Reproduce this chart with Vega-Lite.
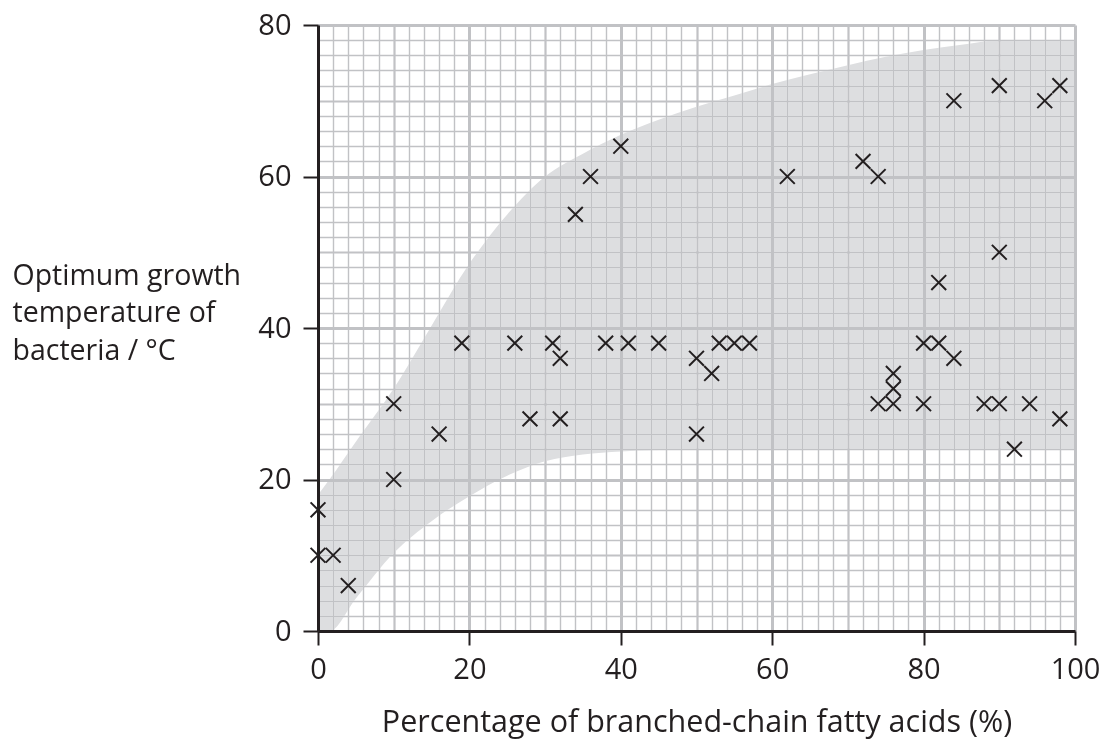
{
  "$schema": "https://vega.github.io/schema/vega-lite/v6.json",
  "autosize": {"type": "none"},
  "width": 757,
  "height": 606,
  "padding": {"left": 318, "top": 25, "right": 26, "bottom": 109},
  "background": "white",
  "config": {"view": {"stroke": null}, "font": "Open Sans"},
  "datasets": {
    "band": [
      {"pct": 0, "temp": 18, "lower": 0},
      {"pct": 1.5, "temp": 20, "lower": 0},
      {"pct": 5, "temp": 25, "lower": 4.3},
      {"pct": 10, "temp": 32, "lower": 10.3},
      {"pct": 15, "temp": 40.3, "lower": 14.5},
      {"pct": 20, "temp": 48.5, "lower": 17.8},
      {"pct": 25, "temp": 55, "lower": 20.5},
      {"pct": 30, "temp": 60, "lower": 22.4},
      {"pct": 35, "temp": 63, "lower": 23.3},
      {"pct": 40, "temp": 65.5, "lower": 23.7},
      {"pct": 45, "temp": 67.5, "lower": 23.9},
      {"pct": 50, "temp": 69.2, "lower": 24},
      {"pct": 55, "temp": 70.7, "lower": 24},
      {"pct": 60, "temp": 72.2, "lower": 24},
      {"pct": 65, "temp": 73.5, "lower": 24},
      {"pct": 70, "temp": 74.7, "lower": 24},
      {"pct": 75, "temp": 75.8, "lower": 24},
      {"pct": 80, "temp": 76.7, "lower": 24},
      {"pct": 85, "temp": 77.4, "lower": 24},
      {"pct": 90, "temp": 78, "lower": 24},
      {"pct": 95, "temp": 78, "lower": 24},
      {"pct": 100, "temp": 78, "lower": 24}
    ],
    "bacteria": [
      {"pct": 0, "temp": 16}, {"pct": 0, "temp": 10}, {"pct": 2, "temp": 10}, {"pct": 4, "temp": 6},
      {"pct": 10, "temp": 30}, {"pct": 10, "temp": 20}, {"pct": 16, "temp": 26}, {"pct": 19, "temp": 38},
      {"pct": 26, "temp": 38}, {"pct": 28, "temp": 28}, {"pct": 31, "temp": 38}, {"pct": 32, "temp": 36},
      {"pct": 32, "temp": 28}, {"pct": 34, "temp": 55}, {"pct": 36, "temp": 60}, {"pct": 38, "temp": 38},
      {"pct": 40, "temp": 64}, {"pct": 41, "temp": 38}, {"pct": 45, "temp": 38}, {"pct": 50, "temp": 36},
      {"pct": 50, "temp": 26}, {"pct": 52, "temp": 34}, {"pct": 53, "temp": 38}, {"pct": 55, "temp": 38},
      {"pct": 57, "temp": 38}, {"pct": 62, "temp": 60}, {"pct": 72, "temp": 62}, {"pct": 74, "temp": 60},
      {"pct": 74, "temp": 30}, {"pct": 76, "temp": 30}, {"pct": 76, "temp": 32}, {"pct": 76, "temp": 34},
      {"pct": 80, "temp": 38}, {"pct": 82, "temp": 38}, {"pct": 82, "temp": 46}, {"pct": 84, "temp": 36},
      {"pct": 84, "temp": 70}, {"pct": 80, "temp": 30}, {"pct": 88, "temp": 30}, {"pct": 90, "temp": 30},
      {"pct": 90, "temp": 72}, {"pct": 90, "temp": 50}, {"pct": 92, "temp": 24}, {"pct": 94, "temp": 30},
      {"pct": 96, "temp": 70}, {"pct": 98, "temp": 72}, {"pct": 98, "temp": 28}
    ]
  },
  "encoding": {
    "x": {
      "field": "pct", "type": "quantitative",
      "scale": {"domain": [0, 100], "nice": false, "zero": false},
      "axis": {
        "values": [0,2,4,6,8,10,12,14,16,18,20,22,24,26,28,30,32,34,36,38,40,42,44,46,48,50,52,54,56,58,60,62,64,66,68,70,72,74,76,78,80,82,84,86,88,90,92,94,96,98,100],
        "grid": true,
        "gridColor": "#c1c2c5",
        "gridWidth": {"expr": "datum.value % 20 === 0 ? 3 : (datum.value % 10 === 0 ? 2.2 : 1.4)"},
        "domainColor": "#231f20",
        "domainWidth": 3,
        "tickColor": "#231f20",
        "tickWidth": 2,
        "tickSize": 14,
        "tickOpacity": {"expr": "datum.value % 20 === 0 ? 1 : 0"},
        "labelExpr": "datum.value % 20 === 0 ? datum.label : ''",
        "labelFont": "Open Sans",
        "labelFontSize": 29,
        "labelColor": "#231f20",
        "labelPadding": 10,
        "labelOverlap": false,
        "labelFlush": false,
        "title": "Percentage of branched-chain fatty acids (%)",
        "titleFont": "Open Sans",
        "titleFontSize": 30.5,
        "titleFontWeight": "normal",
        "titleColor": "#231f20",
        "titleBaseline": "alphabetic",
        "titleY": 100
      }
    },
    "y": {
      "field": "temp", "type": "quantitative",
      "scale": {"domain": [0, 80], "nice": false, "zero": false},
      "axis": {
        "values": [0,2,4,6,8,10,12,14,16,18,20,22,24,26,28,30,32,34,36,38,40,42,44,46,48,50,52,54,56,58,60,62,64,66,68,70,72,74,76,78,80],
        "grid": true,
        "gridColor": "#c1c2c5",
        "gridWidth": {"expr": "datum.value % 20 === 0 ? 3 : (datum.value % 10 === 0 ? 2.2 : 1.4)"},
        "domainColor": "#231f20",
        "domainWidth": 3,
        "tickColor": "#231f20",
        "tickWidth": 2,
        "tickSize": 15,
        "tickOpacity": {"expr": "datum.value % 20 === 0 ? 1 : 0"},
        "labelExpr": "datum.value % 20 === 0 ? datum.label : ''",
        "labelFont": "Open Sans",
        "labelFontSize": 29,
        "labelColor": "#231f20",
        "labelPadding": 12,
        "labelOverlap": false,
        "labelFlush": false,
        "title": ["Optimum growth", "temperature of", "bacteria / °C"],
        "titleFont": "Open Sans",
        "titleFontSize": 28.5,
        "titleFontWeight": "normal",
        "titleColor": "#231f20",
        "titleAngle": 0,
        "titleAlign": "left",
        "titleBaseline": "alphabetic",
        "titleLineHeight": 37.5,
        "titleX": -306,
        "titleY": 259
      }
    }
  },
  "layer": [
    {
      "data": {"name": "band"},
      "mark": {"type": "area", "color": "#dddee0", "interpolate": "monotone", "blend": "darken"},
      "encoding": {
        "y2": {"field": "lower"}
      }
    },
    {
      "data": {"name": "bacteria"},
      "mark": {"type": "point", "shape": "M-1,-1L1,1M-1,1L1,-1", "filled": false, "stroke": "#231f20", "strokeWidth": 2, "size": 220, "opacity": 1}
    }
  ]
}
